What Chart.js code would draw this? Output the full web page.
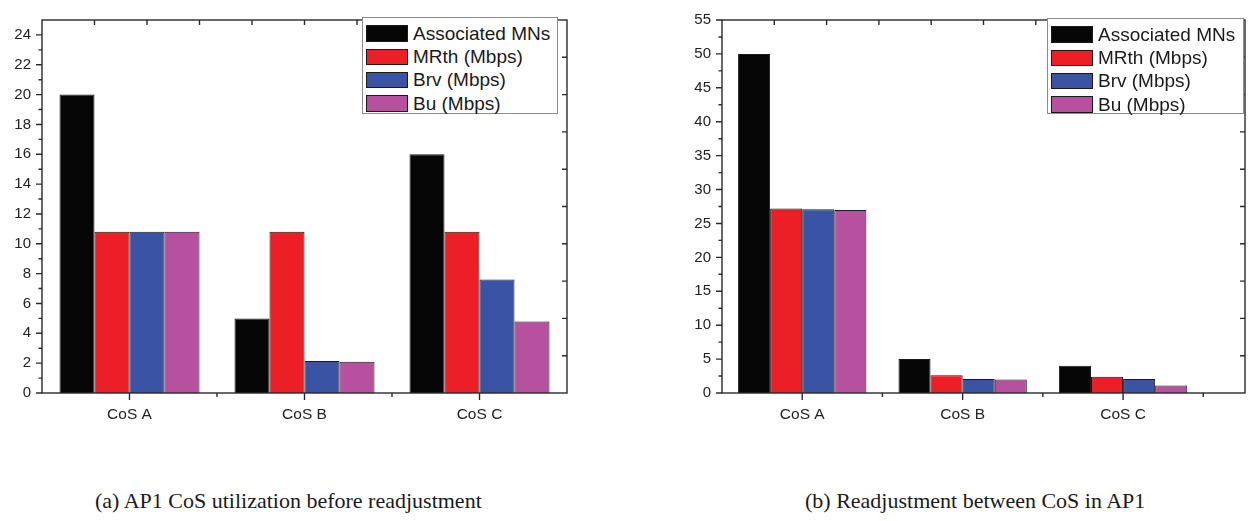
<!DOCTYPE html>
<html>
<head>
<meta charset="utf-8">
<script src="https://cdn.jsdelivr.net/npm/chart.js@4.4.0/dist/chart.umd.min.js"></script>
<style>
  body { margin: 0; background: #fff; width: 1250px; height: 521px; overflow: hidden; position: relative; font-family: "Liberation Sans", Arial, sans-serif; }
  canvas { position: absolute; top: 0; }
  #cA { left: 0; }
  #cB { left: 678px; }
  .legend { position: absolute; box-sizing: border-box; border: 1px solid #8c8c8c; background: #fff; padding-top: 4px; }
  .legend .row { display: flex; align-items: center; height: 23.3px; }
  .legend .sw { width: 42px; height: 16.5px; box-sizing: border-box; border: 1px solid #1a1a1a; margin-left: 3px; margin-right: 5px; }
  .legend .tx { font-size: 19px; color: #1a1a1a; white-space: nowrap; }
  #legA { left: 362px; top: 17px; width: 196px; height: 97px; }
  #legB { left: 1047px; top: 18px; width: 197px; height: 96px; }
  .cap { position: absolute; top: 490px; font-family: "Liberation Serif", "Times New Roman", serif; font-size: 22px; line-height: 22px; color: #1a1a1a; white-space: nowrap; }
</style>
</head>
<body>
<canvas id="cA" width="575" height="440"></canvas>
<canvas id="cB" width="572" height="440"></canvas>
<div class="legend" id="legA"></div>
<div class="legend" id="legB"></div>
<div class="cap" style="left:95px">(a) AP1 CoS utilization before readjustment</div>
<div class="cap" style="left:805px">(b) Readjustment between CoS in AP1</div>
<script>
// categories and series
var categories = ['CoS A', 'CoS B', 'CoS C'];
var seriesNames = ['Associated MNs', 'MRth (Mbps)', 'Brv (Mbps)', 'Bu (Mbps)'];
var seriesColors = ['#060606', '#ec1f26', '#3a53a4', '#b7509e'];

// (a) before readjustment
var beforeMNs  = [20, 5, 16];
var beforeMRth = [10.8, 10.8, 10.8];
var beforeBrv  = [10.8, 2.15, 7.6];
var beforeBu   = [10.8, 2.1, 4.8];
var yTicksBefore = [0, 2, 4, 6, 8, 10, 12, 14, 16, 18, 20, 22, 24];

// (b) after readjustment
var afterMNs  = [50, 5, 4];
var afterMRth = [27.2, 2.6, 2.4];
var afterBrv  = [27.1, 2.05, 2.05];
var afterBu   = [27.0, 2.0, 1.1];
var yTicksAfter = [0, 5, 10, 15, 20, 25, 30, 35, 40, 45, 50, 55];

var yFont = { family: '"Liberation Sans", Arial, sans-serif', size: 15 };
var xFont = { family: '"Liberation Sans", Arial, sans-serif', size: 15.5 };

// frame, outward ticks on left/bottom, inward ticks on top/right
var frameTicks = {
  id: 'frameTicks',
  afterDraw: function(chart) {
    var ctx = chart.ctx, a = chart.chartArea, x = chart.scales.x, y = chart.scales.y;
    ctx.save();
    ctx.strokeStyle = '#2a2a2a';
    ctx.lineWidth = 1.4;
    ctx.strokeRect(a.left, a.top, a.right - a.left, a.bottom - a.top);
    ctx.beginPath();
    var yt = y.ticks.map(function(t) { return t.value; });
    var step = yt[1] - yt[0];
    yt.forEach(function(v) {
      var py = y.getPixelForValue(v);
      ctx.moveTo(a.left - 6, py); ctx.lineTo(a.left, py);
      if (v + step / 2 < y.max) {
        var pm = y.getPixelForValue(v + step / 2);
        ctx.moveTo(a.left - 3.5, pm); ctx.lineTo(a.left, pm);
      }
    });
    categories.forEach(function(c, i) {
      var px = x.getPixelForValue(i + 1);
      ctx.moveTo(px, a.bottom); ctx.lineTo(px, a.bottom + 7);
      var pb = x.getPixelForValue(i + 1.5);
      if (pb < a.right - 2) { ctx.moveTo(pb, a.bottom); ctx.lineTo(pb, a.bottom + 4); }
    });
    for (var i = 1; i < 10; i++) {
      var tx = a.left + (a.right - a.left) * i / 10;
      var ty = a.top + (a.bottom - a.top) * i / 10;
      ctx.moveTo(tx, a.top); ctx.lineTo(tx, a.top + 5);
      ctx.moveTo(a.right, ty); ctx.lineTo(a.right - 5, ty);
    }
    ctx.stroke();
    ctx.restore();
  }
};

function makeBars(id, series, yTicks, yMax, xMax, yAxisWidth, padRight) {
  var datasets = series.map(function(vals, k) {
    return {
      label: seriesNames[k],
      data: vals.map(function(v, i) { return { x: i + 1, y: v }; }),
      backgroundColor: seriesColors[k],
      borderColor: '#1a1a1a',
      borderWidth: 1,
      categoryPercentage: 0.8,
      barPercentage: 1.0
    };
  });
  return new Chart(document.getElementById(id), {
    type: 'bar',
    data: { datasets: datasets },
    options: {
      responsive: false,
      animation: false,
      events: [],
      layout: { padding: { top: 5, right: padRight, left: 0, bottom: 0 } },
      plugins: { legend: { display: false }, tooltip: { enabled: false } },
      scales: {
        x: {
          type: 'linear', min: 0.5, max: xMax, offset: false,
          grid: { display: false, drawTicks: false },
          border: { display: false },
          ticks: {
            autoSkip: false, maxRotation: 0, padding: 12, font: xFont, color: '#222',
            callback: function(v) { return categories[v - 1] || ''; }
          },
          afterBuildTicks: function(s) { s.ticks = categories.map(function(c, i) { return { value: i + 1 }; }); },
          afterFit: function(s) { s.height = 47; }
        },
        y: {
          min: 0, max: yMax,
          grid: { display: false, drawTicks: false },
          border: { display: false },
          ticks: { padding: 11, font: yFont, color: '#222' },
          afterBuildTicks: function(s) { s.ticks = yTicks.map(function(v) { return { value: v }; }); },
          afterFit: function(s) { s.width = yAxisWidth; }
        }
      }
    },
    plugins: [frameTicks]
  });
}

function makeLegend(id) {
  var el = document.getElementById(id);
  seriesNames.forEach(function(name, k) {
    var row = document.createElement('div');
    row.className = 'row';
    var sw = document.createElement('div');
    sw.className = 'sw';
    sw.style.background = seriesColors[k];
    var tx = document.createElement('span');
    tx.className = 'tx';
    tx.textContent = name;
    row.appendChild(sw);
    row.appendChild(tx);
    el.appendChild(row);
  });
}

makeBars('cA', [beforeMNs, beforeMRth, beforeBrv, beforeBu], yTicksBefore, 25, 3.5, 42, 8);
makeBars('cB', [afterMNs, afterMRth, afterBrv, afterBu], yTicksAfter, 55, 3.76, 44, 5);
makeLegend('legA');
makeLegend('legB');
</script>
</body>
</html>
